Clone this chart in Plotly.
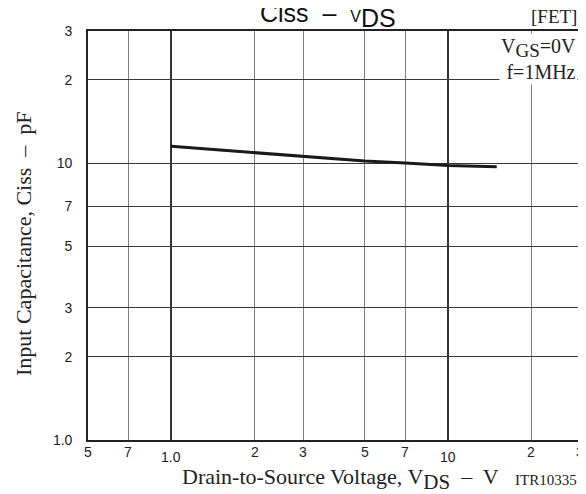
import math
import plotly.graph_objects as go

# Data
vds = [1.0, 1.5, 2.0, 3.0, 5.0, 7.0, 10.0, 15.0]
ciss = [11.5, 11.15, 10.9, 10.6, 10.17, 10.0, 9.8, 9.7]

x_tick_vals = [0.5, 0.7, 1.0, 2, 3, 5, 7, 10, 20, 30]
x_tick_text = ["5", "7", "1.0", "2", "3", "5", "7", "10", "2", "3"]
x_tick_low = [False, False, True, False, False, False, False, True, False, False]

y_tick_vals = [1, 2, 3, 5, 7, 10, 20, 30]
y_tick_text = ["1.0", "2", "3", "5", "7", "10", "2", "3"]

SANS = "Liberation Sans, Arial, sans-serif"
SERIF = "Liberation Serif, Times New Roman, serif"

W, H = 586, 494
L, R, T, B = 80, 14, 23, 62
PW, PH = W - L - R, H - T - B


def px(xp):
    return (xp - L) / PW


def py(yp):
    return (H - B - yp) / PH


fig = go.Figure()
fig.add_trace(go.Scatter(x=vds, y=ciss, mode="lines",
                         line=dict(color="#1a1a1a", width=3), showlegend=False,
                         hoverinfo="skip"))

fig.update_layout(
    width=W, height=H,
    margin=dict(l=L, r=R, t=T, b=B),
    paper_bgcolor="white", plot_bgcolor="white",
    showlegend=False,
)

fig.update_xaxes(
    type="log", range=[math.log10(0.5), math.log10(30)], automargin=False,
    tickvals=[1, 10], showticklabels=False, ticks="",
    showgrid=True, gridcolor="#333333", gridwidth=1.7,
    minor=dict(tickvals=[0.7, 2, 3, 5, 7, 20], showgrid=True,
               gridcolor="#808080", gridwidth=1.1, ticks=""),
    showline=True, linecolor="#222222", linewidth=1.6, mirror=True,
    zeroline=False,
)
fig.update_yaxes(
    type="log", range=[0, math.log10(30)], automargin=False,
    tickvals=y_tick_vals, ticktext=y_tick_text, ticks="",
    ticklabelstandoff=11,
    tickfont=dict(family=SANS, size=14, color="#222222"),
    showgrid=True, gridcolor="#3a3a3a", gridwidth=1.1,
    showline=True, linecolor="#222222", linewidth=1.6, mirror=True,
    zeroline=False,
)

annotations = []
for v, t, low in zip(x_tick_vals, x_tick_text, x_tick_low):
    annotations.append(dict(x=math.log10(v), xref="x", y=0, yref="paper",
                            text=t, showarrow=False, xanchor="center", yanchor="top",
                            yshift=-2 if not low else -7,
                            font=dict(family=SANS, size=14, color="#222222")))

# Title
annotations.append(dict(x=px(250), xref="paper", y=py(7), yref="paper",
                        text="Ciss  –  <span style='font-size:16px'>V</span>"
                             "<sub><span style='font-size:25px'>DS</span></sub>",
                        showarrow=False, xanchor="left", yanchor="middle",
                        font=dict(family=SANS, size=25, color="#111111")))
annotations.append(dict(x=px(571), xref="paper", y=py(9), yref="paper",
                        text="[FET]", showarrow=False,
                        xanchor="right", yanchor="middle",
                        font=dict(family=SERIF, size=19, color="#222222")))
# Conditions
annotations.append(dict(x=px(570), xref="paper", y=py(25), yref="paper",
                        text="V<sub><span style='font-size:19px'>GS</span></sub>=0V<br>f=1MHz",
                        showarrow=False,
                        xanchor="right", yanchor="top", align="right",
                        bgcolor="white", borderpad=1,
                        font=dict(family=SERIF, size=20, color="#222222")))
# Axis titles
annotations.append(dict(x=px(172), xref="paper", y=py(471), yref="paper",
                        text="Drain-to-Source Voltage, V"
                             "<sub><span style='font-size:21px'>DS</span></sub>  –  V",
                        showarrow=False, xanchor="left", yanchor="middle",
                        font=dict(family=SERIF, size=22, color="#222222")))
annotations.append(dict(x=px(571), xref="paper", y=py(472), yref="paper",
                        text="ITR10335", showarrow=False, xanchor="right", yanchor="middle",
                        font=dict(family=SERIF, size=15, color="#222222")))
annotations.append(dict(x=px(15), xref="paper", y=py(236), yref="paper",
                        text="Input Capacitance, Ciss  –  pF", showarrow=False,
                        textangle=-90, xanchor="center", yanchor="middle",
                        font=dict(family=SERIF, size=22, color="#222222")))

fig.update_layout(annotations=annotations)
fig.write_html("out.html")
